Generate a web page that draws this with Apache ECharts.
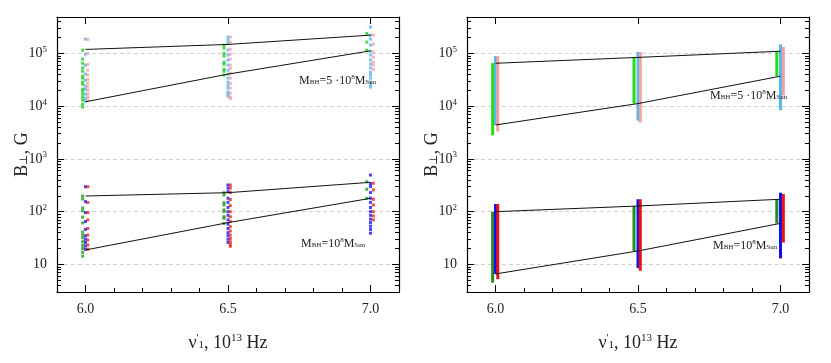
<!DOCTYPE html>
<html>
<head>
<meta charset="utf-8">
<script src="https://cdn.jsdelivr.net/npm/echarts@6/dist/echarts.min.js"></script>
<style>
html, body { margin: 0; padding: 0; background: #fff; }
#chart { width: 831px; height: 363px; }
</style>
</head>
<body>
<div id="chart"></div>
<script>
// frequency ticks and column offsets (green / blue / red columns sit side by side)
const nuTicks = [6.0, 6.5, 7.0];
const nuMinor = [6.1, 6.2, 6.3, 6.4, 6.6, 6.7, 6.8, 6.9];
const bMinor = [4, 5, 6, 7, 8, 9, 20, 30, 40, 50, 60, 70, 80, 90,
    200, 300, 400, 500, 600, 700, 800, 900, 2e3, 3e3, 4e3, 5e3, 6e3, 7e3, 8e3, 9e3,
    2e4, 3e4, 4e4, 5e4, 6e4, 7e4, 8e4, 9e4, 2e5, 3e5, 4e5];
const colGreen = [5.99, 6.486, 6.987];
const colBlue = [6.0, 6.5, 7.0];
const colRed = [6.008, 6.508, 7.01];

// left panel, M_BH = 5e8 : points in each column (at 6.0, 6.5, 7.0)
const hiGreen = [
    [1.15e5, 7.8e4, 6.5e4, 5.3e4, 4.6e4, 3.7e4, 3.4e4, 2.86e4, 2.6e4, 2.1e4, 1.93e4, 1.69e4, 1.48e4, 1.3e4, 1.09e4, 9.6e3],
    [1.43e5, 1.26e5, 1.0e5, 8.9e4, 6.8e4, 6.2e4, 5.0e4, 4.6e4, 3.9e4],
    [2.4e5, 1.64e5, 1.15e5],
];
const hiBlue = [
    [1.87e5, 9.7e4, 6.0e4, 4.05e4, 3.1e4, 2.4e4, 2.1e4, 1.7e4, 1.42e4, 1.25e4],
    [2.04e5, 1.79e5, 1.57e5, 1.16e5, 9.3e4, 7.5e4, 6.0e4, 4.8e4, 4.05e4, 3.4e4, 2.86e4, 2.5e4, 2.2e4, 1.85e4, 1.69e4, 1.55e4],
    [3.15e5, 2.22e5, 1.87e5, 1.44e5, 1.1e5, 9.3e4, 7.5e4, 6.3e4, 5.3e4, 4.4e4, 3.9e4, 3.4e4, 2.86e4, 2.5e4, 2.3e4],
];
const hiPink = [
    [1.85e5, 1.0e5, 6.2e4, 4.8e4, 3.9e4, 3.2e4, 2.7e4, 2.3e4, 2.0e4, 1.7e4, 1.5e4, 1.3e4],
    [2.04e5, 1.64e5, 1.2e5, 9.7e4, 7.8e4, 6.0e4, 5.2e4, 4.2e4, 3.4e4, 2.7e4, 2.2e4, 1.77e4, 1.48e4, 1.4e4],
    [2.22e5, 1.5e5, 1.06e5, 8.5e4, 6.8e4, 6.0e4, 5.0e4],
];
// left panel, M_BH = 1e8
const loGreen = [
    [198, 174, 117, 103, 79, 61, 41, 36, 32, 27, 23, 20, 17, 14.4],
    [229, 207, 148, 134, 108, 100, 80, 75, 60],
    [370, 266, 179],
];
const loBlue = [
    [297, 155, 96, 65, 46, 35, 30, 26, 22.4, 19.4],
    [320, 280, 240, 180, 150, 120, 100, 85, 70, 58, 48, 40, 35, 30, 26],
    [495, 340, 300, 230, 180, 150, 120, 100, 85, 72, 62, 53, 46, 39],
];
const loRed = [
    [297, 149, 96, 70, 48, 36, 29, 23.4, 19.4],
    [320, 280, 230, 170, 130, 100, 80, 65, 52, 43, 36, 31, 27, 24, 22],
    [345, 258, 172, 134, 100, 83, 70],
];
// left panel boundary curves
const leftHiUpper = [1.19e5, 1.48e5, 2.22e5];
const leftHiLower = [1.21e4, 4.05e4, 1.12e5];
const leftLoUpper = [198, 229, 360];
const leftLoLower = [18.8, 62, 179];

// right panel: ranges [low, high] per column
const rHiGreen = [[2.8e3, 6.6e4], [1.12e4, 8.4e4], [3.7e4, 1.1e5]];
const rHiBlue = [[4.4e3, 8.9e4], [5.3e3, 1.07e5], [8.4e3, 1.48e5]];
const rHiPink = [[3.3e3, 8.9e4], [4.9e3, 1.07e5], [1.6e4, 1.33e5]];
const rLoGreen = [[4.5, 100], [18, 128], [60, 172]];
const rLoBlue = [[6.6, 140], [8.5, 172], [13, 229]];
const rLoRed = [[5.25, 140], [7.6, 172], [26, 216]];
const rightHiUpper = [6.5e4, 8.4e4, 1.1e5];
const rightHiLower = [4.4e3, 1.12e4, 3.7e4];
const rightLoUpper = [100, 128, 172];
const rightLoLower = [6.6, 18, 60];

const serif = "'Liberation Serif', 'DejaVu Serif', serif";
const ink = '#222';

const points = (cols, vals) => {
    const out = [];
    vals.forEach((col, i) => col.forEach((v) => out.push([cols[i], v])));
    return out;
};
const ranges = (cols, vals) => vals.map((r, i) => [cols[i], r[0], r[1]]);
const curve = (vals) => vals.map((v, i) => [nuTicks[i], v]);

// axes
const xAxes = (grid) => [
    {
        gridIndex: grid, type: 'value', position: 'bottom', min: 5.9, max: 7.1,
        axisLine: { lineStyle: { color: '#000', width: 1.2 } },
        axisTick: { inside: true, length: 7, customValues: nuTicks, lineStyle: { color: '#000' } },
        axisLabel: { customValues: nuTicks, formatter: (v) => v.toFixed(1), fontFamily: serif, fontSize: 14, color: ink, margin: 10 },
        splitLine: { show: false },
        name: "ν{sup|'}{sub|1}, 10{sup|13} Hz", nameLocation: 'middle', nameGap: 41,
        nameTextStyle: {
            fontFamily: serif, fontSize: 18, color: ink,
            rich: { sup: { fontFamily: serif, fontSize: 11, color: ink, padding: [0, 0, 10, 0] }, sub: { fontFamily: serif, fontSize: 11, color: ink, padding: [0, 0, -4, 0] } },
        },
    },
    {
        gridIndex: grid, type: 'value', position: 'bottom', min: 5.9, max: 7.1,
        axisLine: { show: false },
        axisTick: { inside: true, length: 4, customValues: nuMinor, lineStyle: { color: '#000' } },
        axisLabel: { show: false }, splitLine: { show: false },
    },
    {
        gridIndex: grid, type: 'value', position: 'top', min: 5.9, max: 7.1,
        axisLine: { lineStyle: { color: '#000', width: 1.2 } },
        axisTick: { inside: true, length: 7, customValues: nuTicks, lineStyle: { color: '#000' } },
        axisLabel: { show: false }, splitLine: { show: false },
    },
];

const yFormatter = (v) => {
    const l = Math.log10(v);
    const e = Math.round(l);
    if (Math.abs(l - e) > 1e-6) return '';
    return e === 1 ? '10' : '10{sup|' + e + '}';
};

const yMain = (grid) => [
    {
        gridIndex: grid, type: 'log', logBase: 10, position: 'left', min: 3, max: 4.9e5,
        axisLine: { lineStyle: { color: '#000', width: 1.2 } },
        axisTick: { inside: true, length: 7, lineStyle: { color: '#000' } },
        axisLabel: {
            formatter: yFormatter, fontFamily: serif, fontSize: 14, color: ink, margin: 10,
            rich: { sup: { fontFamily: serif, fontSize: 9, color: ink, padding: [0, 0, 8, 0] } },
        },
        splitLine: { show: true, lineStyle: { color: '#d0d0d0', type: [4, 3] } },
        name: 'B{sub|⊥}, G', nameLocation: 'middle', nameGap: 26, nameRotate: 90,
        nameMoveOverlap: false,
        nameTextStyle: {
            fontFamily: serif, fontSize: 18, color: ink,
            rich: { sub: { fontFamily: serif, fontSize: 11, color: ink, padding: [0, 0, -4, 0] } },
        },
    },
    {
        gridIndex: grid, type: 'log', logBase: 10, position: 'right', min: 3, max: 4.9e5,
        axisLine: { lineStyle: { color: '#000', width: 1.2 } },
        axisTick: { inside: true, length: 7, lineStyle: { color: '#000' } },
        axisLabel: { show: false }, splitLine: { show: false },
    },
];
// minor log ticks on both sides
const yMinor = (grid) => ['left', 'right'].map((pos) => ({
    gridIndex: grid, type: 'log', logBase: 10, position: pos, min: 3, max: 4.9e5,
    axisLine: { show: false },
    axisTick: { inside: true, length: 4, customValues: bMinor, lineStyle: { color: '#000' } },
    axisLabel: { show: false }, splitLine: { show: false },
}));

const scatter = (data, color, xi, yi) => ({
    type: 'scatter', data, xAxisIndex: xi, yAxisIndex: yi,
    symbol: 'rect', symbolSize: [3, 3], itemStyle: { color }, silent: true, z: 2,
});
const bars = (data, color, width) => ({
    type: 'custom', data, xAxisIndex: 3, yAxisIndex: 2, silent: true, z: 2,
    itemStyle: { color },
    encode: { x: 0, y: [1, 2] },
    renderItem: (params, api) => {
        const top = api.coord([api.value(0), api.value(2)]);
        const bot = api.coord([api.value(0), api.value(1)]);
        return {
            type: 'rect',
            shape: { x: top[0] - width / 2, y: top[1], width, height: bot[1] - top[1] },
            style: { fill: color },
        };
    },
});
const line = (data, xi, yi) => ({
    type: 'line', data, xAxisIndex: xi, yAxisIndex: yi, showSymbol: false, silent: true, z: 5,
    lineStyle: { color: '#111', width: 1 },
});

const note = (x, y, mass) => ({
    type: 'text', left: x, top: y, z: 10,
    style: {
        text: 'M{sub|BH}=' + mass + 'M{sub|Sun}',
        fontFamily: serif, fontSize: 12, fill: ink,
        rich: {
            sub: { fontFamily: serif, fontSize: 7, fill: ink, padding: [0, 0, -4, 0] },
            sup: { fontFamily: serif, fontSize: 7, fill: ink, padding: [0, 0, 6, 0] },
        },
    },
});

const chart = echarts.init(document.getElementById('chart'));
chart.setOption({
    animation: false,
    backgroundColor: '#fff',
    grid: [
        { left: 57, right: 432, top: 17, bottom: 71 },
        { left: 467, right: 22, top: 17, bottom: 71 },
    ],
    xAxis: [...xAxes(0), ...xAxes(1)],
    yAxis: [...yMain(0), ...yMain(1), ...yMinor(0), ...yMinor(1)],
    graphic: [
        note(299, 74, '5 ·10{sup|8}'),
        note(301, 237, '10{sup|8}'),
        note(710, 89, '5 ·10{sup|8}'),
        note(713, 239, '10{sup|8}'),
    ],
    series: [
        scatter(points(colGreen, hiGreen), '#22cc22', 0, 0),
        scatter(points(colBlue, hiBlue), '#5ab4f0', 0, 0),
        scatter(points(colRed, hiPink), '#f4a3a3', 0, 0),
        scatter(points(colGreen, loGreen), '#1f981f', 0, 0),
        scatter(points(colBlue, loBlue), '#1a1aee', 0, 0),
        scatter(points(colRed, loRed), '#ee2222', 0, 0),
        line(curve(leftHiUpper), 0, 0),
        line(curve(leftHiLower), 0, 0),
        line(curve(leftLoUpper), 0, 0),
        line(curve(leftLoLower), 0, 0),

        bars(ranges(colGreen, rHiGreen), '#22dd11', 3),
        bars(ranges(colBlue, rHiBlue), '#55b8f0', 3),
        bars(ranges(colRed, rHiPink), '#f2a0a0', 3),
        bars(ranges(colGreen, rLoGreen), '#228b22', 3),
        bars(ranges(colBlue, rLoBlue), '#1010ee', 3),
        bars(ranges(colRed, rLoRed), '#ee1111', 3),
        line(curve(rightHiUpper), 3, 2),
        line(curve(rightHiLower), 3, 2),
        line(curve(rightLoUpper), 3, 2),
        line(curve(rightLoLower), 3, 2),
    ],
});
</script>
</body>
</html>
